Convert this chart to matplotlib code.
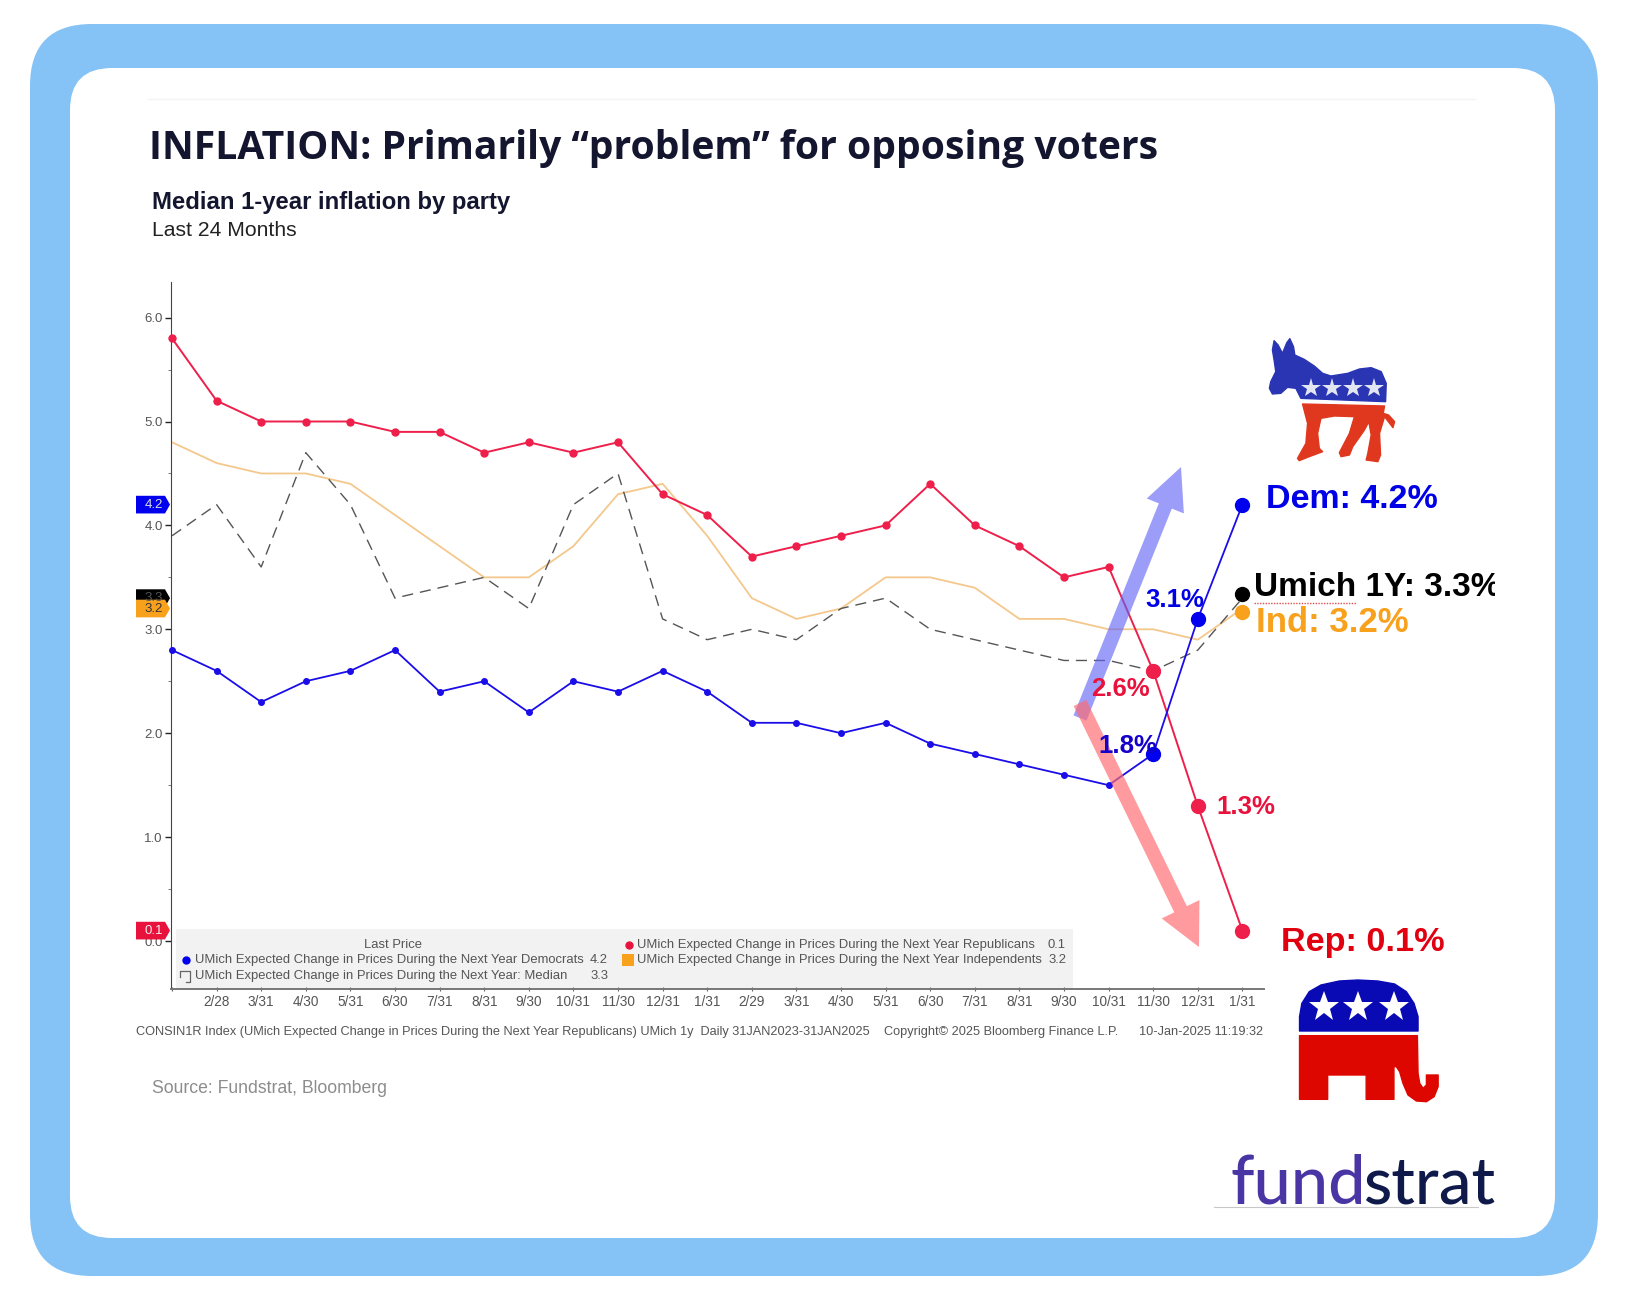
import matplotlib
matplotlib.use("Agg")
import matplotlib.pyplot as plt
from matplotlib.patches import FancyBboxPatch, FancyArrow, Polygon, Rectangle
from matplotlib.transforms import Bbox, blended_transform_factory

W, H = 1625, 1300
SANS = "Liberation Sans"

# data
months = ["", "2/28", "3/31", "4/30", "5/31", "6/30", "7/31", "8/31", "9/30", "10/31", "11/30", "12/31",
          "1/31", "2/29", "3/31", "4/30", "5/31", "6/30", "7/31", "8/31", "9/30", "10/31", "11/30", "12/31", "1/31"]
rep = [5.8, 5.2, 5.0, 5.0, 5.0, 4.9, 4.9, 4.7, 4.8, 4.7, 4.8, 4.3, 4.1, 3.7, 3.8, 3.9, 4.0, 4.4, 4.0, 3.8, 3.5, 3.6, 2.6, 1.3, 0.1]
dem = [2.8, 2.6, 2.3, 2.5, 2.6, 2.8, 2.4, 2.5, 2.2, 2.5, 2.4, 2.6, 2.4, 2.1, 2.1, 2.0, 2.1, 1.9, 1.8, 1.7, 1.6, 1.5, 1.8, 3.1, 4.2]
ind = [4.8, 4.6, 4.5, 4.5, 4.4, 4.1, 3.8, 3.5, 3.5, 3.8, 4.3, 4.4, 3.9, 3.3, 3.1, 3.2, 3.5, 3.5, 3.4, 3.1, 3.1, 3.0, 3.0, 2.9, 3.2]
median = [3.9, 4.2, 3.6, 4.7, 4.2, 3.3, 3.4, 3.5, 3.2, 4.2, 4.5, 3.1, 2.9, 3.0, 2.9, 3.2, 3.3, 3.0, 2.9, 2.8, 2.7, 2.7, 2.6, 2.8, 3.3]
median_dot = 3.34  # the hand placed dots sit a little off the lines
ind_dot = 3.17

REP_C = "#ee1f4a"
DEM_C = "#1a0de8"
IND_C = "#f4c88c"
MED_C = "#555555"
ORANGE = "#f7a11d"
INK = "#14152e"
TICK_C = "#555555"

fig = plt.figure(figsize=(W / 100, H / 100), dpi=100, facecolor="white")


def px_axes(zorder):
    a = fig.add_axes([0, 0, 1, 1], zorder=zorder)
    a.set_xlim(0, W)
    a.set_ylim(H, 0)
    a.axis("off")
    return a


back = px_axes(0)
top = px_axes(2)

# frame
back.add_patch(FancyBboxPatch((30 + 62, 24 + 62), 1568 - 124, 1252 - 124, boxstyle="round,pad=62,rounding_size=62",
                              fc="#85c2f5", ec="none"))
back.add_patch(FancyBboxPatch((70 + 42, 68 + 42), 1485 - 84, 1170 - 84, boxstyle="round,pad=42,rounding_size=42",
                              fc="white", ec="none"))
back.plot([148, 1475], [99, 99], color="#f4f4f4", lw=1)

# headings
back.text(149, 159, "INFLATION: Primarily \u201cproblem\u201d for opposing voters", family="Open Sans", weight="bold",
          fontsize=28.15, color=INK, va="baseline")
back.text(152, 209, "Median 1-year inflation by party", family=SANS, weight="bold", fontsize=17.2, color=INK, va="baseline")
back.text(152, 236, "Last 24 Months", family=SANS, fontsize=15.2, color="#222222", va="baseline")
back.text(152, 1093, "Source: Fundstrat, Bloomberg", family=SANS, fontsize=12.7, color="#8c8c8c", va="baseline")

# main chart, placed so that 0.0 and 6.0 land on the reference ticks
ax_l, ax_r, ax_b, ax_t = 171, 1264, 989, 282
ax = fig.add_axes([ax_l / W, 1 - ax_b / H, (ax_r - ax_l) / W, (ax_b - ax_t) / H], zorder=1)
ax.patch.set_alpha(0)
ax.set_xlim((ax_l - 172) / 44.6, (ax_r - 172) / 44.6)
ax.set_ylim((941 - ax_b) / 103.9, (941 - ax_t) / 103.9)
for s in ["top", "right"]:
    ax.spines[s].set_visible(False)
ax.spines["left"].set_color("#444444")
ax.spines["bottom"].set_color("#777777")
ax.spines["bottom"].set_linewidth(1.4)

xs = list(range(len(rep)))
ax.plot(xs, ind, color=IND_C, lw=1.3, zorder=2, clip_on=False)
ax.plot(xs, median, color=MED_C, lw=1.0, dashes=(8, 5), zorder=2, clip_on=False)
ax.plot(xs, rep, color=REP_C, lw=1.4, zorder=3, clip_on=False)
ax.plot(xs, dem, color=DEM_C, lw=1.3, zorder=3, clip_on=False)
ax.plot(xs[:22], rep[:22], "o", color=REP_C, ms=5, zorder=4, clip_on=False)
ax.plot(xs[:22], dem[:22], "o", color=DEM_C, ms=4, zorder=4, clip_on=False)
ax.plot(xs[22:], rep[22:], "o", color=REP_C, ms=10, zorder=4, clip_on=False)
ax.plot(xs[22:], dem[22:], "o", color="#0000ee", ms=10, zorder=4, clip_on=False)
ax.plot(xs[-1], median_dot, "o", color="black", ms=10, zorder=5, clip_on=False)
ax.plot(xs[-1], ind_dot, "o", color=ORANGE, ms=10, zorder=5, clip_on=False)

ax.set_yticks([0, 1, 2, 3, 4, 5, 6])
ax.set_yticklabels(["0.0", "1.0", "2.0", "3.0", "4.0", "5.0", "6.0"], family=SANS, fontsize=9.5, color=TICK_C)
ax.set_yticks([0.5, 1.5, 2.5, 3.5, 4.5, 5.5], minor=True)
ax.tick_params(axis="y", which="major", length=4, width=1, pad=2, color="#222222")
ax.tick_params(axis="y", which="minor", length=2, width=0.7, color="#777777")
ax.set_xticks(xs)
ax.set_xticklabels(months, family=SANS, fontsize=9.8, color=TICK_C)
ax.tick_params(axis="x", length=3, width=0.8, pad=3, color="#666666", direction="inout")

# last price tags on the axis
tag_tr = blended_transform_factory(back.transData, ax.transData)
for val, col, tc in [(median[-1], "black", "#555555"), (ind[-1], ORANGE, "#333333"), (dem[-1], "#0000ee", "#dddddd"), (rep[-1], "#e8123c", "#eeeeee")]:
    poly = Polygon([(136, val + 0.085), (165, val + 0.085), (170, val), (165, val - 0.085), (136, val - 0.085)],
                   closed=True, fc=col, ec="none", transform=tag_tr, zorder=6, clip_on=False)
    top.add_patch(poly)
    top.text(154, val, f"{val:.1f}", transform=tag_tr, ha="center", va="center", family=SANS, fontsize=9.5, color=tc, zorder=7)

# legend block
back.add_patch(Rectangle((176, 929), 897, 60, fc="#f2f2f2", ec="none"))
LEG_C = "#555555"
lkw = dict(family=SANS, fontsize=9.4, color=LEG_C, va="center", zorder=7)
top.text(393, 945, "Last Price", ha="center", **lkw)
top.text(195, 960, "UMich Expected Change in Prices During the Next Year Democrats", **lkw)
top.text(195, 976, "UMich Expected Change in Prices During the Next Year: Median", **lkw)
top.text(637, 945, "UMich Expected Change in Prices During the Next Year Republicans", **lkw)
top.text(637, 960, "UMich Expected Change in Prices During the Next Year Independents", **lkw)
top.text(608, 960, f"{dem[-1]:.1f}", ha="right", **lkw)
top.text(608, 976, f"{median[-1]:.1f}", ha="right", **lkw)
top.text(1066, 945, f"{rep[-1]:.1f}", ha="right", **lkw)
top.text(1066, 960, f"{ind[-1]:.1f}", ha="right", **lkw)
top.plot([186], [960], "o", color="#0000ee", ms=5)
top.plot([629], [945], "o", color="#e8123c", ms=5)
top.add_patch(Rectangle((622, 954), 12, 12, fc=ORANGE, ec="none"))
top.plot([180, 180, 190, 190, 186], [977, 971, 971, 982, 982], color="#666666", lw=0.9)

fkw = dict(family=SANS, fontsize=9.2, color=LEG_C, va="center")
back.text(136, 1032, "CONSIN1R Index (UMich Expected Change in Prices During the Next Year Republicans) UMich 1y  Daily 31JAN2023-31JAN2025", **fkw)
back.text(884, 1032, "Copyright\u00a9 2025 Bloomberg Finance L.P.", **fkw)
back.text(1263, 1032, "10-Jan-2025 11:19:32", ha="right", **fkw)

# hand drawn arrows
top.add_patch(FancyArrow(1080, 718, 1181 - 1080, 467 - 718, width=14, head_width=40, head_length=42,
                         length_includes_head=True, fc="#6062f5", ec="none", alpha=0.62, zorder=3))
top.add_patch(FancyArrow(1080, 703, 1199 - 1080, 947 - 703, width=14, head_width=42, head_length=42,
                         length_includes_head=True, fc="#ff6a70", ec="none", alpha=0.68, zorder=3))

# call-outs
BIG = dict(family=SANS, weight="bold", va="center", zorder=8)
top.text(1266, 499, f"Dem: {dem[-1]}%", fontsize=24.5, color="#0000e6", **BIG)
top.text(1281, 943, f"Rep: {rep[-1]}%", fontsize=24.7, color="#e00010", **BIG)
top.text(1256, 622, f"Ind: {ind[-1]}%", fontsize=25, color=ORANGE, **BIG)
um = top.text(1254, 588, f"Umich 1Y: {median[-1]}%", fontsize=24, color="black", **BIG)
um.set_clip_box(Bbox([[1240, H - 620], [1495, H - 550]]))  # the reference cuts this label off
um.set_clip_on(True)
top.plot([1254, 1356], [603, 603], color="#e05050", lw=1, ls=(0, (1, 1)))
SMALL = dict(family=SANS, weight="bold", va="center", zorder=8)
top.text(1145, 600, f"{dem[-2]}%", fontsize=18.5, color="#0000e6", **SMALL)
top.text(1091, 689, f"{rep[-3]}%", fontsize=18.5, color="#e8123c", **SMALL)
top.text(1098, 746, f"{dem[-3]}%", fontsize=18.5, color="#1400c8", **SMALL)
top.text(1216, 807, f"{rep[-2]}%", fontsize=18.5, color="#e8123c", **SMALL)


# party logos, traced in zoomed coordinates
def z1(pts):
    return [(1100 + x / 2.987, 300 + y / 3) for x, y in pts]


def z3(pts):
    return [(1100 + x / 2.987, 800 + y / 3) for x, y in pts]


donkey_top = [(520, 122), (532, 135), (545, 160), (558, 128), (567, 116), (578, 140), (582, 165), (610, 178), (640, 198),
              (665, 220), (690, 228), (740, 220), (775, 207), (810, 203), (840, 215), (855, 250), (853, 305), (600, 295),
              (585, 265), (560, 262), (540, 280), (515, 282), (506, 265), (510, 245), (525, 215), (520, 180), (515, 150)]
donkey_low = [(605, 312), (850, 318), (846, 340), (862, 345), (880, 365), (875, 383), (850, 350), (835, 400), (838, 465),
              (830, 485), (795, 480), (800, 460), (810, 405), (803, 365), (790, 390), (755, 440), (745, 465), (720, 470),
              (715, 458), (745, 400), (760, 350), (700, 348), (660, 355), (650, 400), (655, 445), (665, 455), (625, 470),
              (595, 482), (590, 475), (615, 430), (620, 370)]
top.add_patch(Polygon(z1(donkey_top), fc="#2a35b4", ec="#2a35b4", lw=1, joinstyle="round"))
top.add_patch(Polygon(z1(donkey_low), fc="#e0381f", ec="#e0381f", lw=1, joinstyle="round"))
sx, sy = zip(*z1([(630, 265), (692, 265), (755, 265), (818, 265)]))
top.plot(sx, sy, "*", color="#e2e5f2", ms=15, mew=0)

ele_top = [(596, 693), (596, 650), (603, 610), (625, 575), (660, 555), (715, 543), (770, 540), (830, 543), (880, 552),
           (915, 575), (938, 610), (950, 650), (950, 693)]
ele_low = [(596, 707), (948, 707), (950, 820), (955, 850), (965, 865), (975, 855), (975, 825), (1010, 825), (1010, 860),
           (998, 890), (975, 905), (945, 903), (920, 885), (905, 850), (895, 815), (885, 800), (878, 800), (878, 898),
           (795, 898), (795, 825), (680, 825), (680, 898), (596, 898)]
top.add_patch(Polygon(z3(ele_top), fc="#0a0ab4", ec="#0a0ab4", lw=1, joinstyle="round"))
top.add_patch(Polygon(z3(ele_low), fc="#dd0700", ec="#dd0700", lw=1, joinstyle="round"))
sx, sy = zip(*z3([(670, 622), (772, 622), (877, 622)]))
top.plot(sx, sy, "*", color="white", ms=23, mew=0)

# fundstrat logo
top.text(1230, 1203, "fund", family="Lato", weight="medium", fontsize=48, color="#4a35a5", va="baseline")
top.text(1363, 1203, "strat", family="Lato", weight="medium", fontsize=47, color="#0f1a4a", va="baseline")
top.plot([1214, 1478], [1207, 1207], color="#c8c8c8", lw=0.8)

fig.savefig("out.png", dpi=100)
